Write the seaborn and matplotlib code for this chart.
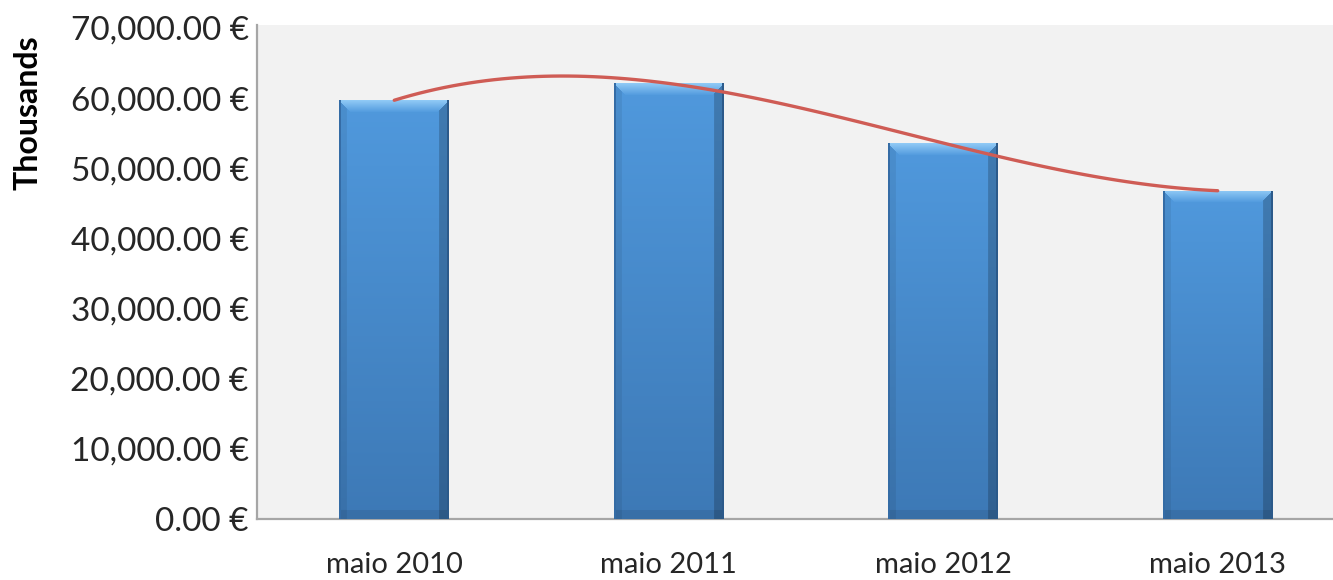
#=====================================================================================================
# Program Name     : MonthlyValuesBarPlot
# Description      : Bar chart of May values (in thousands of euros) with a cubic trend line.
# Output           : out.png
#=====================================================================================================

import numpy as np
import matplotlib
matplotlib.use("Agg")
import matplotlib.pyplot as plt
from matplotlib.ticker import FuncFormatter, MultipleLocator
import seaborn as sns

# data
Months = ["maio 2010", "maio 2011", "maio 2012", "maio 2013"]
Values = [59700, 62100, 53600, 46800]
Y_Label = "Thousands"

BAR_TOP = np.array([0x50, 0x99, 0xDD]) / 255
BAR_BOTTOM = np.array([0x3D, 0x79, 0xB6]) / 255
BEVEL_LIGHT = np.array([0x90, 0xCA, 0xF6]) / 255
EDGE_DARK = np.array([0x2C, 0x5A, 0x8A]) / 255


#-----------------------------------------------------------------------------------------------------
# Function Name    : bar_image
# Description      : Builds an Excel-2007-like bevelled gradient for one bar (pixel sized array)
#-----------------------------------------------------------------------------------------------------
def bar_image(h, w, bevel=12):
    rows = np.arange(h)[:, None]
    cols = np.arange(w)[None, :]
    t = rows / max(h - 1, 1)
    img = BAR_TOP * (1 - t[..., None]) + BAR_BOTTOM * t[..., None]
    img = np.broadcast_to(img, (h, w, 3)).copy()

    # side shading
    left = cols < bevel * 0.6
    right = cols > w - 1 - bevel * 0.8
    img[np.broadcast_to(left, (h, w))] *= 0.93
    img[np.broadcast_to(right, (h, w))] *= 0.80

    # top bevel
    top = (rows < bevel) & (rows <= cols) & (rows <= w - 1 - cols)
    s = np.clip(rows / bevel, 0, 1)[..., None]
    light = BEVEL_LIGHT * (1 - s) + BAR_TOP * s
    light = np.broadcast_to(light, (h, w, 3))
    img[top] = light[top]

    # bottom shade
    bottom = rows > h - 1 - bevel * 0.7
    img[np.broadcast_to(bottom, (h, w))] *= 0.92

    # outline
    img[:, :2] = EDGE_DARK * 1.2
    img[:, -2:] = EDGE_DARK
    return np.clip(img, 0, 1)


#-----------------------------------------------------------------------------------------------------
# Function Name    : plot_values
#-----------------------------------------------------------------------------------------------------
def plot_values():
    sns.set_style("white")
    plt.rcParams["font.family"] = ["Lato", "DejaVu Sans"]

    fig = plt.figure(figsize=(13.33, 5.80), dpi=100)
    ax = fig.add_axes([257 / 1333, 61 / 580, 1 - 257 / 1333, 494 / 580])
    ax.set_facecolor("#F2F2F2")

    sns.barplot(x=Months, y=Values, width=0.4, color="#4F8FD0", ax=ax, zorder=2)

    sns.regplot(x=np.arange(len(Months)), y=Values, order=3, scatter=False, ci=None,
                ax=ax, color="#CF5C55", line_kws={"linewidth": 2.4, "zorder": 4})

    ax.set_xlim(-0.5, 3.42)
    ax.set_ylim(0, 70430)

    # replace flat fill with bevelled gradient
    for patch in list(ax.patches):
        x0, w, hgt = patch.get_x(), patch.get_width(), patch.get_height()
        h_px = max(int(hgt / 70430 * 494), 4)
        img = bar_image(h_px, 111)
        im = ax.imshow(img, extent=(x0, x0 + w, 0, hgt), aspect="auto",
                       interpolation="bilinear", zorder=3)
        im.set_clip_path(patch)
        patch.set_facecolor("none")
        patch.set_edgecolor("none")

    ax.set_xlim(-0.5, 3.42)
    ax.set_ylim(0, 70430)

    ax.yaxis.set_major_locator(MultipleLocator(10000))
    ax.yaxis.set_major_formatter(FuncFormatter(lambda v, p: f"{v:,.2f} €"))
    ax.tick_params(axis="y", length=0, pad=6, labelsize=24, labelcolor="#262626")
    ax.tick_params(axis="x", length=0, pad=24, labelsize=21, labelcolor="#262626")

    ax.set_xlabel("")
    ax.set_ylabel("")
    for side in ["top", "right"]:
        ax.spines[side].set_visible(False)
    for side in ["left", "bottom"]:
        ax.spines[side].set_color("#A6A6A6")
        ax.spines[side].set_linewidth(1.6)

    fig.text(28 / 1333, 1 - 113 / 580, Y_Label, rotation=90, fontsize=23,
             fontweight="bold", ha="center", va="center", color="#000000")

    fig.savefig("out.png", dpi=100, facecolor="white")


def main():
    plot_values()


if __name__ == "__main__":
    main()
